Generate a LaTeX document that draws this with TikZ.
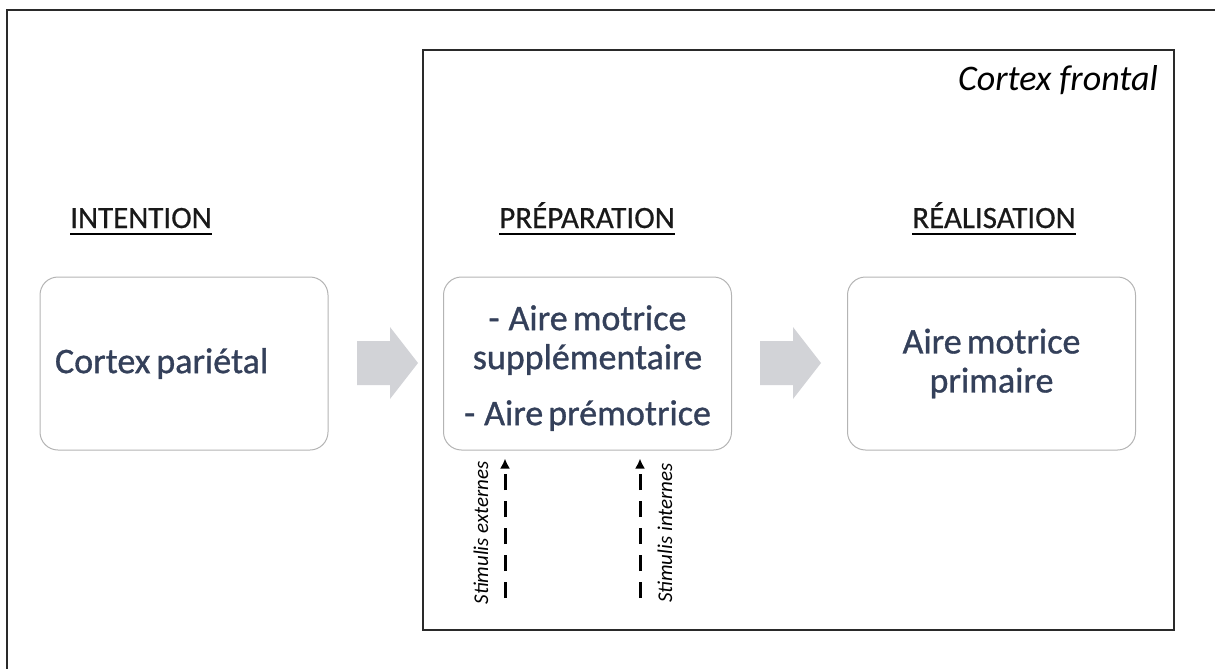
\documentclass[tikz,border=0pt]{standalone}
\usepackage{fontspec}
\setmainfont{Carlito}
\newfontfamily\boxfont[FakeBold=0.9]{Carlito}
\newfontfamily\headfont[FakeBold=0.5]{Carlito}
\newcommand\bxfontsel{\fontsize{36}{39}\boxfont\spaceskip=5pt plus 1pt minus 1pt\relax}
\usetikzlibrary{arrows.meta}
\definecolor{boxtext}{HTML}{34405A}
\definecolor{boxline}{HTML}{B4B4B4}
\definecolor{blockarrow}{HTML}{D2D3D7}
\definecolor{framecol}{HTML}{2A2A2A}
\begin{document}
\begin{tikzpicture}[x=1pt,y=-1pt,
  areabox/.style={draw=boxline, line width=1pt, rounded corners=18pt, fill=white,
    minimum width=288pt, minimum height=173pt, text=boxtext,
    font=\bxfontsel, inner sep=0pt},
  heading/.style={anchor=base, font=\fontsize{31}{34}\headfont, text=black!90, inner sep=0pt},
  stimlabel/.style={rotate=90, font=\fontsize{21}{23}\selectfont\itshape, inner sep=0pt},
  stimarrow/.style={line width=3pt, dash pattern=on 16pt off 11pt, -{Latex[length=10pt,width=10pt]}, shorten >=8pt},
  bigarrow/.style={fill=blockarrow, draw=none}
]
\useasboundingbox (0,0) rectangle (1215,669);
\begin{scope}
\clip (0,0) rectangle (1215,669);
% outer frame
\draw[framecol, line width=1.5pt] (7,10) rectangle (1230,690);
\end{scope}
% inner frame (frontal cortex)
\draw[framecol, line width=1.5pt] (423,50) rectangle (1174,630);
\node[anchor=base east, font=\fontsize{36}{38}\selectfont\itshape, inner sep=0pt] (cf) at (1158,90) {Cortex frontal};

% headings
\node[heading] (hint) at (141,228) {INTENTION};
\node[heading] (hprep) at (587,228) {PRÉPARATION};
\node[heading] (hreal) at (994,228) {RÉALISATION};
\foreach \h in {hint,hprep,hreal}{
  \draw[line width=1.4pt] ([yshift=-6pt]\h.base west) -- ([yshift=-6pt]\h.base east);
}

% boxes
\node[areabox, text width=258pt, align=left, inner xsep=15pt] (par) at (184,363.5) {\spaceskip=6pt plus 1pt minus 1pt\relax Cortex pariétal};
\node[areabox, align=center] (prep) at (587.5,363.5) {\rule{0pt}{34pt}-\hspace{9pt}Aire motrice\\ supplémentaire\\[17pt] -\hspace{9pt}Aire prémotrice};
\node[areabox, align=center] (real) at (991.5,363.5) {Aire motrice\\ primaire};

% block arrows
\fill[bigarrow] (357,341) -- (390,341) -- (390,327) -- (418,363) -- (390,399) -- (390,385) -- (357,385) -- cycle;
\fill[bigarrow] (760,341) -- (793,341) -- (793,327) -- (821,363) -- (793,399) -- (793,385) -- (760,385) -- cycle;

% stimuli
\coordinate (se) at (505,598);
\coordinate (si) at (640,598);
\draw[stimarrow] (se) -- (se |- prep.south);
\draw[stimarrow] (si) -- (si |- prep.south);
\node[stimlabel] (lse) at (481,533) {Stimulis externes};
\node[stimlabel] (lsi) at (665,533) {Stimulis internes};
\end{tikzpicture}
\end{document}
